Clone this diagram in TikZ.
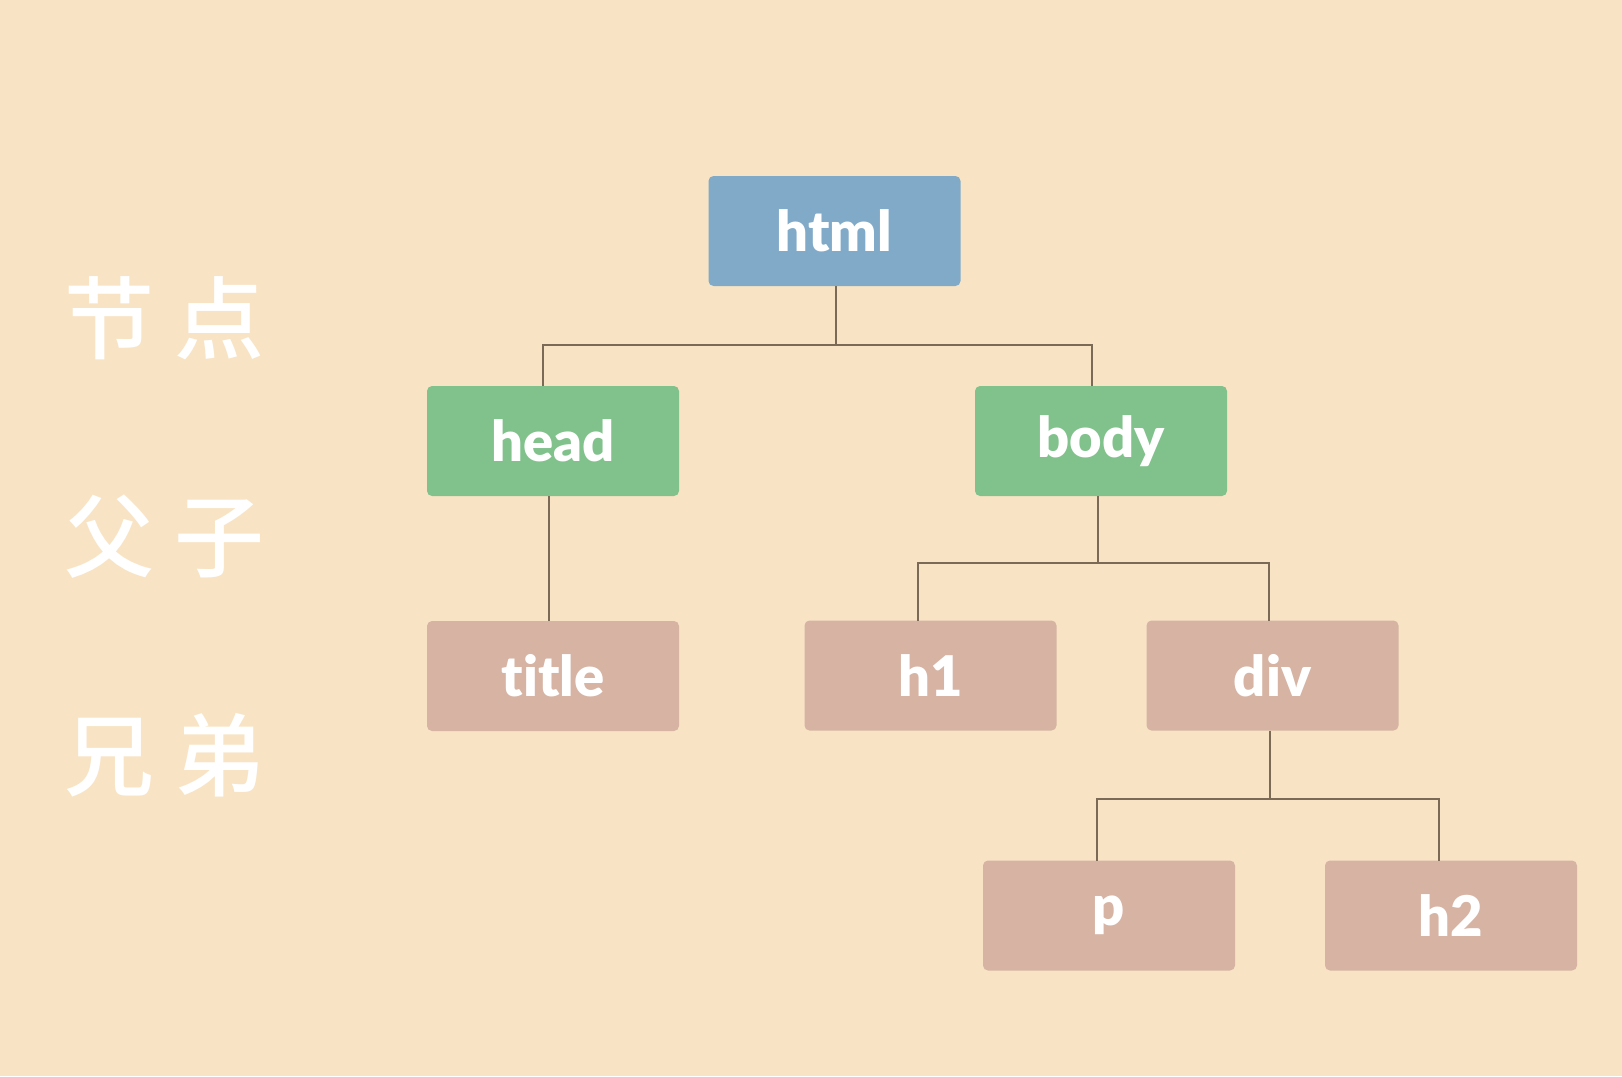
\documentclass[tikz,border=0pt]{standalone}
\usepackage{fontspec}
\setmainfont{Lato}[BoldFont={Lato Black},Ligatures=NoCommon]
\newfontfamily\cjk{Noto Sans CJK SC}[UprightFont={* Medium}]
\usetikzlibrary{positioning}

\definecolor{paper}{RGB}{248,228,196}
\definecolor{rootblue}{RGB}{128,170,200}
\definecolor{leafgreen}{RGB}{129,194,140}
\definecolor{rosy}{RGB}{214,179,163}
\definecolor{wire}{RGB}{122,106,86}

\begin{document}
\begin{tikzpicture}[x=1pt,y=-1pt,
	tag/.style={rectangle,rounded corners=5pt,minimum width=252pt,minimum height=110pt,inner sep=0pt,outer sep=0pt,text=white,font=\fontsize{56}{60}\selectfont\bfseries},
	link/.style={draw=wire,line width=2pt},
	word/.style={text=white,inner sep=0pt,font=\cjk\fontsize{90}{100}\selectfont}]
		\fill[paper] (0,0) rectangle (1622,1076);
		\useasboundingbox (0,0) rectangle (1622,1076);

		\node[word] (w1) at (164.5,318) {节 点};
		\node[word] (w2) at (164.5,537) {父 子};
		\node[word] (w3) at (164.5,755) {兄 弟};

		\node[tag,fill=rootblue] (html) at (834.5,231) {html};
		\node[tag,fill=leafgreen] (head) at (553,441) {head};
		\node[tag,fill=leafgreen] (body) [right=296pt of head] {body};
		\node[tag,fill=rosy] (title) [below=125pt of head] {title};
		\node[tag,fill=rosy] (h1) at (930.5,675.5) {h1};
		\node[tag,fill=rosy] (div) [right=90pt of h1] {div};
		\node[tag,fill=rosy] (p) at (1109,915.5) {p};
		\node[tag,fill=rosy] (h2) [right=90pt of p] {h2};

		\draw[link] ([xshift=1pt]html.south) -- ++(0,58.5);
		\draw[link] ([xshift=-10pt]head.north) -- ++(0,-41.5) -| ([xshift=-9pt]body.north);
		\draw[link] ([xshift=-4pt]head.south) -- ([xshift=-4pt]title.north);
		\draw[link] ([xshift=-3.5pt]body.south) -- ++(0,68);
		\draw[link] ([xshift=-13pt]h1.north) -- ++(0,-58) -| ([xshift=-4pt]div.north);
		\draw[link] ([xshift=-3pt]div.south) -- ++(0,68);
		\draw[link] ([xshift=-12.5pt]p.north) -- ++(0,-62) -| ([xshift=-12pt]h2.north);
	\end{tikzpicture}
\end{document}
